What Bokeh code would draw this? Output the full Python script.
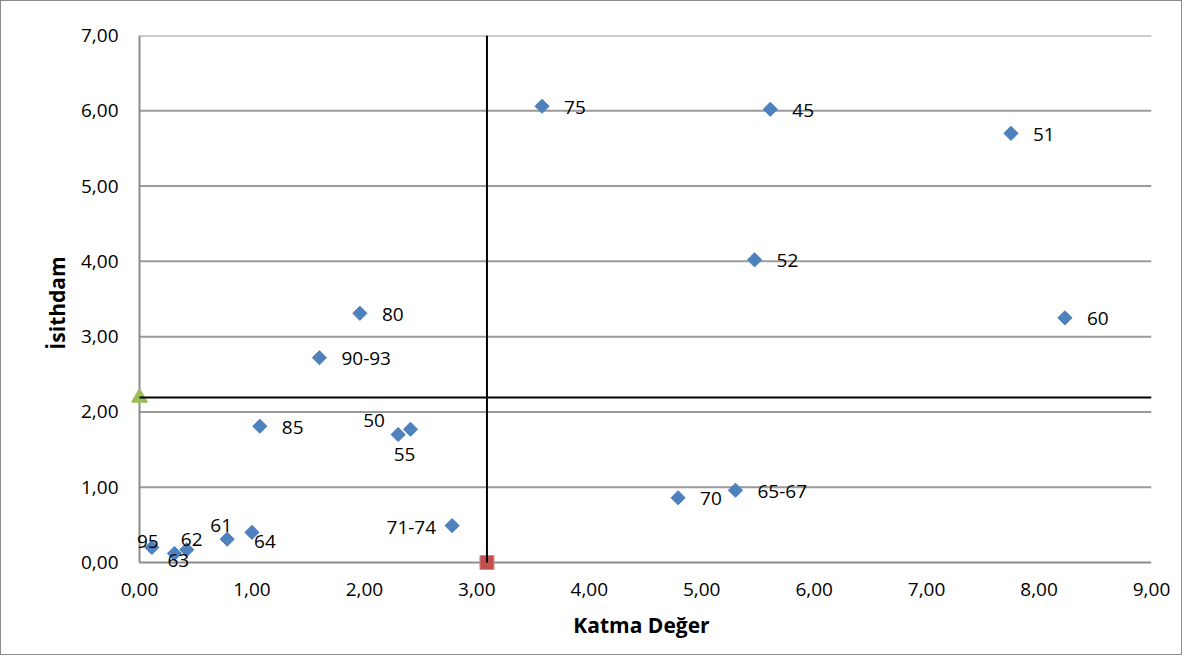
from bokeh.plotting import figure
from bokeh.models import ColumnDataSource, FixedTicker, Range1d
from bokeh.core.properties import value
from bokeh.embed import file_html
from bokeh.resources import INLINE

# ---- data -------------------------------------------------------------
sectors = ["45", "51", "52", "60", "75", "80", "90-93", "85", "50", "55",
           "71-74", "70", "65-67", "95", "63", "62", "61", "64"]
katma_deger = [5.61, 7.75, 5.47, 8.23, 3.58, 1.96, 1.60, 1.07, 2.30, 2.41,
               2.78, 4.79, 5.30, 0.11, 0.31, 0.42, 0.78, 1.00]
istihdam = [6.02, 5.70, 4.02, 3.25, 6.06, 3.31, 2.72, 1.81, 1.70, 1.77,
            0.49, 0.86, 0.96, 0.20, 0.12, 0.17, 0.31, 0.40]
mean_katma = [3.09]
mean_istihdam = [2.19]
x_ticks = [0, 1, 2, 3, 4, 5, 6, 7, 8, 9]
x_tick_labels = ["0,00", "1,00", "2,00", "3,00", "4,00", "5,00", "6,00", "7,00", "8,00", "9,00"]
y_ticks = [0, 1, 2, 3, 4, 5, 6, 7]
y_tick_labels = ["0,00", "1,00", "2,00", "3,00", "4,00", "5,00", "6,00", "7,00"]
x_min, x_max = 0, 9
y_min, y_max = 0, 7

# label placement (pixels), one per sector
label_align = ["left"] * 8 + ["center", "center", "right", "left", "left",
                              "center", "center", "center", "center", "center"]
label_dx = [22] * 8 + [-24, -6, -16, 22, 22, -4, 4, 5, -6, 13]
label_dy = [1] * 8 + [-14, 25, 2, 1, 1, -6, 7, -10, -14, 9]

FONT = value("Open Sans")

# small margin below/left of the axes so edge markers are not clipped
pad_x = 8 / 112.44
pad_y = 8 / 75.29

p = figure(width=1182, height=655, output_backend="svg", toolbar_location=None,
           x_range=Range1d(x_min - pad_x, x_max), y_range=Range1d(y_min - pad_y, y_max),
           min_border_left=130, min_border_right=32, min_border_top=34,
           min_border_bottom=86)
p.styles = {"border": "1px solid #8c8c8c"}
p.outline_line_color = None
p.background_fill_color = "white"
p.border_fill_color = "white"

p.xgrid.grid_line_color = None
p.ygrid.grid_line_color = None

# axes
for ax in (p.xaxis[0], p.yaxis[0]):
    ax.axis_line_color = None
    ax.major_tick_line_color = None
    ax.minor_tick_line_color = None
    ax.major_tick_in = 0
    ax.major_tick_out = 0
    ax.major_label_text_font = "Open Sans"
    ax.major_label_text_font_size = "19px"
    ax.major_label_text_color = "black"
    ax.axis_label_text_font = "Open Sans"
    ax.axis_label_text_font_style = "bold"
    ax.axis_label_text_font_size = "21px"
    ax.axis_label_text_color = "black"

p.xaxis.ticker = FixedTicker(ticks=x_ticks)
p.xaxis.major_label_overrides = dict(zip(x_ticks, x_tick_labels))
p.yaxis.ticker = FixedTicker(ticks=y_ticks)
p.yaxis.major_label_overrides = dict(zip(y_ticks, y_tick_labels))
p.xaxis.axis_label = "Katma Değer"
p.yaxis.axis_label = "İsithdam"
p.xaxis.major_label_standoff = 12
p.yaxis.major_label_standoff = 13
p.xaxis.axis_label_standoff = 12
p.yaxis.axis_label_standoff = 7

# horizontal gridlines (1..7) and axis lines
grid_y = [t for t in y_ticks if t > y_min]
p.segment(x0=[x_min] * len(grid_y), y0=grid_y, x1=[x_max] * len(grid_y), y1=grid_y,
          line_color="#9a9a9a", line_width=2)
p.segment(x0=[x_min, x_min], y0=[y_min, y_min], x1=[x_max, x_min], y1=[y_min, y_max],
          line_color="#8c8c8c", line_width=2)

src = ColumnDataSource(dict(x=katma_deger, y=istihdam, name=sectors,
                            align=label_align, dx=label_dx, dy=label_dy))

p.scatter("x", "y", source=src, marker="square", angle=0.7854, size=10,
          fill_color="#4F81BD", line_color="#4A7EBB", line_width=1)

# mean markers
p.scatter(x=mean_katma, y=[y_min], marker="square", size=14,
          fill_color="#C0504D", line_color="#D98886", line_width=1)
p.scatter(x=[x_min], y=mean_istihdam, marker="triangle", size=16,
          fill_color="#9BBB59", line_color="#9BBB59")

# mean lines (drawn above markers)
p.segment(x0=mean_katma, y0=[y_min], x1=mean_katma, y1=[y_max], line_color="black", line_width=2)
p.segment(x0=[x_min], y0=mean_istihdam, x1=[x_max], y1=mean_istihdam, line_color="black", line_width=2)

p.text("x", "y", text="name", source=src, x_offset="dx", y_offset="dy",
       text_align="align", text_baseline="middle", text_font=FONT,
       text_font_size="19px", text_color="black")

open("out.html", "w").write(file_html(p, INLINE))
